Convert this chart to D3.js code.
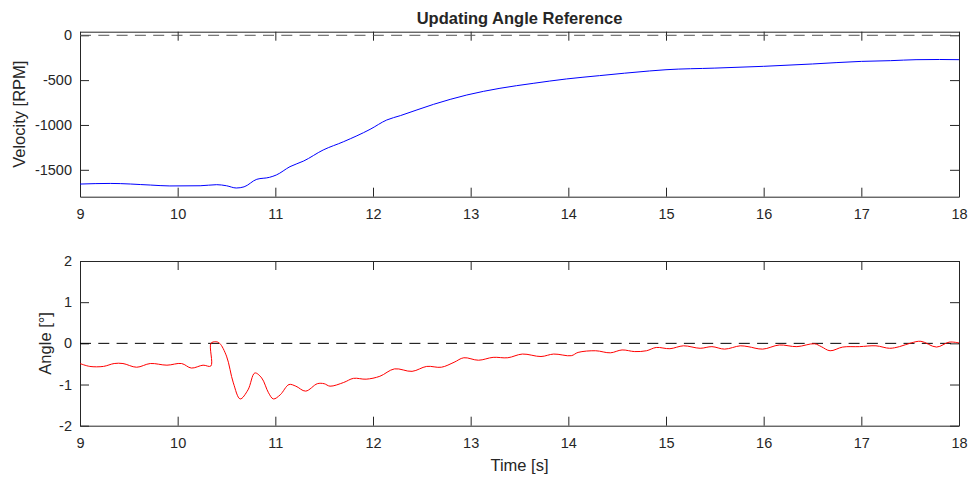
<!DOCTYPE html>
<html>
<head>
<meta charset="utf-8">
<script src="https://cdn.jsdelivr.net/npm/d3@7"></script>
<style>
  body { margin: 0; background: #fff; }
  svg text { font-family: "Liberation Sans", Arial, Helvetica, sans-serif; fill: #262626; }
</style>
</head>
<body>
<div id="chart"></div>
<script>
// wheel velocity [RPM] vs time [s]
let velTime = [9, 9.31, 9.72, 9.92, 10.23, 10.4, 10.5, 10.6, 10.68, 10.81, 10.94, 11.01, 11.15, 11.29, 11.49, 11.7, 11.97, 12.14, 12.28, 12.62, 12.96, 13.3, 13.64, 13.98, 14.32, 14.83, 15, 15.5, 16, 16.5, 17, 17.3, 17.56, 17.8, 18];
let velocity = [-1659, -1652, -1670, -1680, -1678, -1666, -1678, -1703, -1690, -1606, -1584, -1558, -1465, -1402, -1279, -1186, -1049, -945, -896, -770, -666, -591, -536, -487, -450, -398, -384, -366, -346, -320, -291, -283, -272, -270, -272];

// angle [deg] vs time [s]
let angTime = [9, 9.1, 9.24, 9.35, 9.44, 9.58, 9.72, 9.89, 10.04, 10.14, 10.26, 10.34, 10.341, 10.39, 10.43, 10.5, 10.57, 10.64, 10.72, 10.79, 10.86, 10.93, 10.98, 11.05, 11.14, 11.21, 11.31, 11.43, 11.5, 11.56, 11.7, 11.8, 11.93, 12.07, 12.22, 12.4, 12.55, 12.7, 12.83, 12.93, 13.08, 13.23, 13.38, 13.53, 13.72, 13.85, 14.03, 14.1, 14.28, 14.43, 14.55, 14.68, 14.8, 14.9, 15.04, 15.18, 15.35, 15.47, 15.6, 15.76, 15.84, 15.99, 16.16, 16.34, 16.52, 16.59, 16.68, 16.81, 16.98, 17.15, 17.29, 17.39, 17.51, 17.61, 17.77, 17.9, 18];
let angle = [-0.49, -0.56, -0.56, -0.49, -0.49, -0.58, -0.49, -0.53, -0.49, -0.6, -0.53, -0.55, 0, 0.04, 0, -0.31, -0.96, -1.35, -1.13, -0.72, -0.84, -1.2, -1.35, -1.25, -1.0, -1.04, -1.16, -0.98, -0.98, -1.04, -0.95, -0.85, -0.87, -0.8, -0.62, -0.68, -0.56, -0.58, -0.46, -0.35, -0.41, -0.34, -0.35, -0.26, -0.32, -0.26, -0.3, -0.22, -0.18, -0.23, -0.16, -0.2, -0.18, -0.1, -0.13, -0.06, -0.12, -0.08, -0.14, -0.06, -0.08, -0.14, -0.04, -0.08, -0.01, -0.08, -0.18, -0.09, -0.08, -0.06, -0.12, -0.08, 0.01, 0.05, -0.09, 0.03, 0.01];

let xTicks = [9, 10, 11, 12, 13, 14, 15, 16, 17, 18];
let velTicks = [-1500, -1000, -500, 0];
let angTicks = [-2, -1, 0, 1, 2];

let width = 972, height = 479;
let left = 80, right = 959;

let svg = d3.select('#chart')
  .append('svg')
  .attr('width', width)
  .attr('height', height);

let x = d3.scaleLinear().domain([9, 18]).range([left, right]);
let yVel = d3.scaleLinear().domain([-1800, 40]).range([196.7, 31.7]);
let yAng = d3.scaleLinear().domain([-2, 2]).range([425.7, 261]);

// plain hyphen minus like MATLAB labels
let fmt = d => String(d);

// boxed axes: ticks point inward on all four sides
function drawPanel(y, yticks) {
  let top = y.range()[1], bottom = y.range()[0];
  let tk = 9;
  let g = svg.append('g');

  let bx = g.append('g')
    .attr('transform', 'translate(0,' + bottom + ')')
    .call(d3.axisBottom(x).tickValues(xTicks).tickSizeInner(-tk).tickSizeOuter(0).tickPadding(12.5).tickFormat(fmt));
  let tx = g.append('g')
    .attr('transform', 'translate(0,' + top + ')')
    .call(d3.axisTop(x).tickValues(xTicks).tickSizeInner(-tk).tickSizeOuter(0).tickFormat(''));
  let ly = g.append('g')
    .attr('transform', 'translate(' + left + ',0)')
    .call(d3.axisLeft(y).tickValues(yticks).tickSizeInner(-tk).tickSizeOuter(0).tickPadding(8).tickFormat(fmt));
  let ry = g.append('g')
    .attr('transform', 'translate(' + right + ',0)')
    .call(d3.axisRight(y).tickValues(yticks).tickSizeInner(-tk).tickSizeOuter(0).tickFormat(''));

  [bx, tx, ly, ry].forEach(a => {
    a.selectAll('.domain').attr('stroke', '#262626');
    a.selectAll('.tick line').attr('stroke', '#262626');
    a.selectAll('text').style('font-size', '14.5px').attr('fill', '#262626');
  });
  return g;
}

drawPanel(yVel, velTicks);
drawPanel(yAng, angTicks);

// zero reference lines
svg.append('line')
  .attr('x1', x(9)).attr('x2', x(18))
  .attr('y1', yVel(0)).attr('y2', yVel(0))
  .attr('stroke', '#555').attr('stroke-dasharray', '11,7.3');
svg.append('line')
  .attr('x1', x(9)).attr('x2', x(18))
  .attr('y1', yAng(0)).attr('y2', yAng(0))
  .attr('stroke', '#000').attr('stroke-dasharray', '11,7.3');

let velLine = d3.line()
  .x((d, i) => x(velTime[i]))
  .y(d => yVel(d))
  .curve(d3.curveMonotoneX);
svg.append('path')
  .attr('d', velLine(velocity))
  .attr('fill', 'none')
  .attr('stroke', '#0000ff')
  .attr('stroke-width', 1);

let angLine = d3.line()
  .x((d, i) => x(angTime[i]))
  .y(d => yAng(d))
  .curve(d3.curveCatmullRom.alpha(0.5));
svg.append('path')
  .attr('d', angLine(angle))
  .attr('fill', 'none')
  .attr('stroke', '#ff0000')
  .attr('stroke-width', 1);

// titles and axis labels
svg.append('text')
  .attr('x', (left + right) / 2).attr('y', 23.5)
  .attr('text-anchor', 'middle')
  .style('font-size', '16.5px').style('font-weight', 'bold')
  .attr('fill', '#000')
  .text('Updating Angle Reference');

svg.append('text')
  .attr('transform', 'translate(25,' + ((31.7 + 196.7) / 2) + ') rotate(-90)')
  .attr('text-anchor', 'middle')
  .style('font-size', '16.5px')
  .text('Velocity [RPM]');

svg.append('text')
  .attr('transform', 'translate(51,' + ((261 + 425.7) / 2) + ') rotate(-90)')
  .attr('text-anchor', 'middle')
  .style('font-size', '16.5px')
  .text('Angle [°]');

svg.append('text')
  .attr('x', (left + right) / 2).attr('y', 470.5)
  .attr('text-anchor', 'middle')
  .style('font-size', '16.5px')
  .text('Time [s]');
</script>
</body>
</html>
